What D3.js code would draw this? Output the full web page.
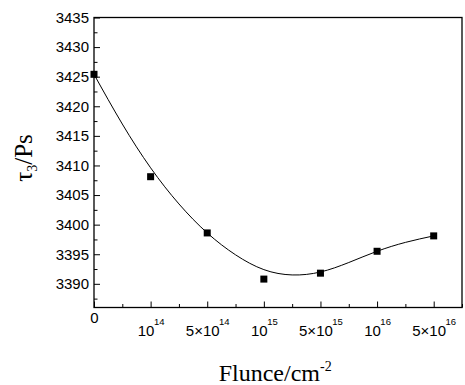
<!DOCTYPE html>
<html lang="en">
<head>
    <meta charset="UTF-8">
    <title>Fluence</title>
    <script type="text/javascript" src="https://cdn.jsdelivr.net/npm/d3@7/dist/d3.min.js"></script>
    <style>
        body {
            margin: 0;
            background: #fff;
        }

        .axis path,
        .axis line {
            stroke: #000;
        }

        .axis text {
            font-family: "Liberation Sans", Arial, sans-serif;
            font-size: 15px;
            fill: #000;
        }

        .title {
            font-family: "Liberation Serif", "Times New Roman", serif;
            fill: #000;
        }
    </style>
</head>
<body>
<svg width="465" height="385"></svg>

<script>
    // x categories (fluence), drawn at evenly spaced positions
    var catBase = ["0", "10", "5\u00d710", "10", "5\u00d710", "10", "5\u00d710"];
    var catExp = ["", "14", "14", "15", "15", "16", "16"];

    // measured lifetimes tau3 (ps)
    var tauValues = [3425.4, 3408.1, 3398.6, 3390.8, 3391.8, 3395.5, 3398.1];

    // fitted curve
    var fitPos = [0, 0.5, 1, 1.5, 2, 2.5, 3, 3.5, 4, 4.5, 5, 5.5, 6];
    var fitTau = [3425.4, 3417.0, 3409.6, 3403.5, 3398.6, 3394.9, 3392.4,
                  3391.5, 3392.0, 3393.6, 3395.5, 3397.0, 3398.1];

    var yMajor = [3390, 3395, 3400, 3405, 3410, 3415, 3420, 3425, 3430, 3435];

    var svg = d3.select("svg"),
        margin = {left: 94, top: 17.5, right: 3, bottom: 77.5},
        width = +svg.attr("width") - margin.left - margin.right,
        height = +svg.attr("height") - margin.top - margin.bottom;

    var g = svg.append("g")
        .attr("transform", "translate(" + margin.left + "," + margin.top + ")");

    var x = d3.scaleLinear().domain([0, 6.5]).range([0, width]);
    var y = d3.scaleLinear().domain([3386, 3435]).range([height, 0]);

    // minor ticks first
    var yMinor = d3.range(3387.5, 3435, 5);
    g.append("g")
        .attr("class", "axis")
        .call(d3.axisLeft(y).tickValues(yMinor).tickSizeInner(-3.5).tickSizeOuter(0).tickFormat(""))
        .select(".domain").remove();

    g.append("g")
        .attr("class", "axis")
        .call(d3.axisLeft(y).tickValues(yMajor).tickSizeInner(-6).tickSizeOuter(0)
            .tickPadding(5).tickFormat(d3.format("d")))
        .select(".domain").remove();

    var xMinor = d3.range(0.5, 6.6, 1);
    g.append("g")
        .attr("class", "axis")
        .attr("transform", "translate(0," + height + ")")
        .call(d3.axisBottom(x).tickValues(xMinor).tickSizeInner(-3.5).tickSizeOuter(0).tickFormat(""))
        .select(".domain").remove();

    var xAxis = g.append("g")
        .attr("class", "axis")
        .attr("transform", "translate(0," + height + ")")
        .call(d3.axisBottom(x).tickValues(d3.range(0, 7)).tickSizeInner(-6).tickSizeOuter(0).tickFormat(""));
    xAxis.select(".domain").remove();

    // tick labels with superscripts
    xAxis.selectAll(".tick").each(function (d) {
        var t = d3.select(this).append("text")
            .attr("text-anchor", "middle")
            .attr("y", catExp[d] ? 28 : 15.5);
        t.append("tspan").text(catBase[d]);
        if (catExp[d]) {
            t.append("tspan")
                .attr("dy", -11)
                .attr("dx", -0.5)
                .style("font-size", "9.5px")
                .text(catExp[d]);
        }
    });

    // frame
    g.append("rect")
        .attr("width", width)
        .attr("height", height)
        .attr("fill", "none")
        .attr("stroke", "#000")
        .attr("stroke-width", 1.3);

    // fitted line
    var line = d3.line()
        .x(function (d, i) { return x(fitPos[i]); })
        .y(function (d) { return y(d); })
        .curve(d3.curveNatural);

    g.append("path")
        .datum(fitTau)
        .attr("fill", "none")
        .attr("stroke", "#000")
        .attr("stroke-width", 1)
        .attr("d", line);

    // points
    g.selectAll("rect.pt")
        .data(tauValues)
        .enter()
        .append("rect")
        .attr("class", "pt")
        .attr("x", function (d, i) { return x(i) - 3.5; })
        .attr("y", function (d) { return y(d) - 3.5; })
        .attr("width", 7)
        .attr("height", 7)
        .attr("fill", "#000");

    // axis titles
    var xt = svg.append("text")
        .attr("class", "title")
        .attr("x", margin.left + x(3.2))
        .attr("y", 381)
        .attr("text-anchor", "middle")
        .style("font-size", "24px");
    xt.append("tspan").text("Flunce/cm");
    xt.append("tspan").attr("dy", -10).style("font-size", "14px").text("-2");

    var yt = svg.append("text")
        .attr("class", "title")
        .attr("transform", "translate(32,158) rotate(-90)")
        .attr("text-anchor", "middle")
        .style("font-size", "25px");
    yt.append("tspan").text("\u03c4");
    yt.append("tspan").attr("dy", 5).style("font-size", "14px").text("3");
    yt.append("tspan").attr("dy", -5).text("/Ps");
</script>
</body>
</html>
